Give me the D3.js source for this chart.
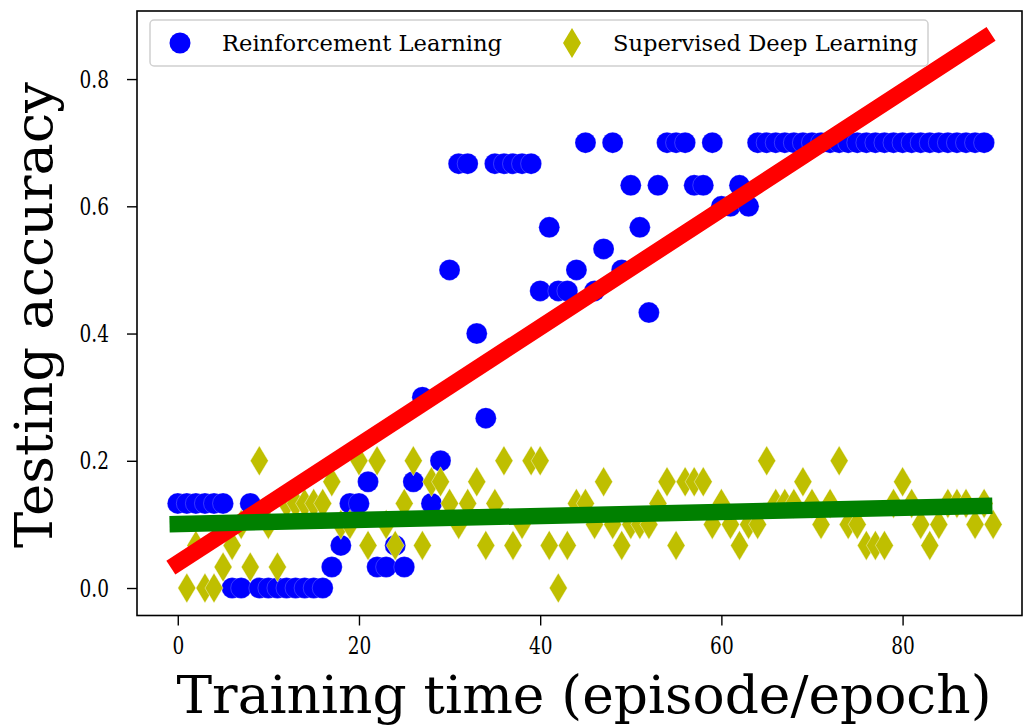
<!DOCTYPE html>
<html>
<head>
<meta charset="utf-8">
<script src="https://cdn.jsdelivr.net/npm/d3@7"></script>
<style>
  html, body { margin: 0; padding: 0; background: #fff; }
  svg { display: block; }
</style>
</head>
<body>
<svg id="chart" width="1025" height="728"></svg>
<script>
// ---- data ----
const rlEpisodes = [0,1,2,3,4,5,6,7,8,9,10,11,12,13,14,15,16,17,18,19,20,21,22,23,24,25,26,27,28,29,30,31,32,33,34,35,36,37,38,39,40,41,42,43,44,45,46,47,48,49,50,51,52,53,54,55,56,57,58,59,60,61,62,63,64,65,66,67,68,69,70,71,72,73,74,75,76,77,78,79,80,81,82,83,84,85,86,87,88,89];
const rlAccuracy = [0.133,0.133,0.133,0.133,0.133,0.133,0,0,0.133,0,0,0,0,0,0,0,0,
  0.033,0.067,0.133,0.133,0.167,0.033,0.033,0.067,0.033,0.167,0.3,0.133,0.2,
  0.5,0.667,0.667,0.4,0.267,0.667,0.667,0.667,0.667,0.667,
  0.467,0.567,0.467,0.467,0.5,0.7,0.467,0.533,0.7,0.5,
  0.633,0.567,0.433,0.633,0.7,0.7,0.7,0.633,0.633,0.7,
  0.6,0.6,0.633,0.6,
  0.7,0.7,0.7,0.7,0.7,0.7,0.7,0.7,0.7,0.7,0.7,0.7,0.7,0.7,0.7,0.7,0.7,0.7,0.7,0.7,0.7,0.7,0.7,0.7,0.7,0.7];

const sdlEpochs = [1,2,3,4,5,6,7,8,9,10,11,12,13,14,15,16,17,18,19,20,21,22,23,24,25,26,27,28,29,30,31,32,33,34,35,36,37,38,39,40,41,42,43,44,45,46,47,48,49,50,51,52,53,54,55,56,57,58,59,60,61,62,63,64,65,66,67,68,69,70,71,72,73,74,75,76,77,78,79,80,81,82,83,84,85,86,87,88,89,90];
const sdlAccuracy = [0,0.067,0,0,0.033,0.067,0.1,0.033,0.2,0.1,
  0.033,0.133,0.133,0.133,0.133,0.133,0.167,0.1,0.1,0.2,
  0.067,0.2,0.1,0.067,0.133,0.2,0.067,0.167,0.167,0.133,
  0.1,0.133,0.167,0.067,0.133,0.2,0.067,0.1,0.2,0.2,
  0.067,0,0.067,0.133,0.133,0.1,0.167,0.1,0.067,0.1,
  0.1,0.1,0.133,0.167,0.067,0.167,0.167,0.167,0.1,0.133,
  0.1,0.067,0.1,0.1,0.2,0.133,0.133,0.133,0.167,0.133,
  0.1,0.133,0.2,0.1,0.1,0.067,0.067,0.067,0.133,0.167,
  0.133,0.1,0.067,0.1,0.133,0.133,0.133,0.1,0.133,0.1];

// fitted trend lines (endpoints)
const rlTrendX = [0, 89];
const rlTrendY = [0.039, 0.864];
const sdlTrendX = [0, 89];
const sdlTrendY = [0.1005, 0.129];

const xTicks = [0, 20, 40, 60, 80];
const yTicks = [0.0, 0.2, 0.4, 0.6, 0.8];
const seriesNames = ["Reinforcement Learning", "Supervised Deep Learning"];
const xTitle = "Training time (episode/epoch)";
const yTitle = "Testing accuracy";

// ---- layout ----
const svg = d3.select("#chart");
const pLeft = 137, pRight = 1022, pTop = 11, pBottom = 615.5;
const x = d3.scaleLinear().domain([-4.5, 93.18]).range([pLeft, pRight]);
const y = d3.scaleLinear().domain([-0.0432, 0.907]).range([pBottom, pTop]);
const FONT = "DejaVu Serif";
const BLUE = "#0000ff", YEL = "#bfbf00", RED = "#ff0000", GREEN = "#008000";
const SQUEEZE = 0.74; // glyphs in the picture are horizontally condensed

svg.append("defs").append("clipPath").attr("id", "plotclip")
  .append("rect").attr("x", pLeft).attr("y", pTop).attr("width", pRight - pLeft).attr("height", pBottom - pTop);

const plot = svg.append("g").attr("clip-path", "url(#plotclip)");

const diamondPath = (w, h) => `M0,${-h/2}L${w/2},0L0,${h/2}L${-w/2},0Z`;

// RL circles
plot.append("g").selectAll("circle")
  .data(rlEpisodes.map((e, i) => [e, rlAccuracy[i]]))
  .join("circle")
  .attr("cx", d => x(d[0])).attr("cy", d => y(d[1])).attr("r", 10.5)
  .attr("fill", BLUE).attr("stroke", "#ffffff").attr("stroke-opacity", 0.35).attr("stroke-width", 0.6);

// SDL diamonds
plot.append("g").selectAll("path")
  .data(sdlEpochs.map((e, i) => [e, sdlAccuracy[i]]))
  .join("path")
  .attr("d", diamondPath(18, 30))
  .attr("transform", d => `translate(${x(d[0])},${y(d[1])})`)
  .attr("fill", YEL).attr("stroke", "#ffffff").attr("stroke-opacity", 0.6).attr("stroke-width", 0.7);

// trend lines
const line = d3.line().x(d => x(d[0])).y(d => y(d[1]));
plot.append("path").datum(rlTrendX.map((v, i) => [v, rlTrendY[i]]))
  .attr("d", line).attr("fill", "none").attr("stroke", RED)
  .attr("stroke-width", 16.5).attr("stroke-linecap", "square");
plot.append("path").datum(sdlTrendX.map((v, i) => [v, sdlTrendY[i]]))
  .attr("d", line).attr("fill", "none").attr("stroke", GREEN)
  .attr("stroke-width", 16.5).attr("stroke-linecap", "square");

// frame
svg.append("rect").attr("x", pLeft).attr("y", pTop).attr("width", pRight - pLeft).attr("height", pBottom - pTop)
  .attr("fill", "none").attr("stroke", "#000").attr("stroke-width", 1.6);

// axes
const xAxis = svg.append("g").attr("transform", `translate(0,${pBottom})`)
  .call(d3.axisBottom(x).tickValues(xTicks).tickFormat(d3.format("d")).tickSize(10).tickPadding(11));
const yAxis = svg.append("g").attr("transform", `translate(${pLeft},0)`)
  .call(d3.axisLeft(y).tickValues(yTicks).tickFormat(d3.format(".1f")).tickSize(10).tickPadding(18));
[xAxis, yAxis].forEach(a => {
  a.select(".domain").remove();
  a.selectAll(".tick line").attr("stroke", "#000").attr("stroke-width", 1.4);
  a.selectAll(".tick text").attr("font-family", FONT).attr("font-size", 25).attr("fill", "#000")
    .each(function() {
      const w = this.getComputedTextLength();
      d3.select(this).attr("textLength", w * SQUEEZE).attr("lengthAdjust", "spacingAndGlyphs");
    });
});

// axis titles
svg.append("text").attr("x", 584).attr("y", 713)
  .attr("text-anchor", "middle").attr("font-family", FONT).attr("font-size", 52)
  .attr("textLength", 815).attr("lengthAdjust", "spacingAndGlyphs")
  .text(xTitle);
svg.append("text").attr("transform", "translate(52,315) rotate(-90)")
  .attr("text-anchor", "middle").attr("font-family", FONT).attr("font-size", 52)
  .attr("textLength", 466).attr("lengthAdjust", "spacingAndGlyphs")
  .text(yTitle);

// legend
const lg = svg.append("g");
lg.append("rect").attr("x", 150).attr("y", 20).attr("width", 778).attr("height", 46).attr("rx", 4)
  .attr("fill", "#fff").attr("fill-opacity", 0.8).attr("stroke", "#d0d0d0").attr("stroke-width", 1.5);
lg.append("circle").attr("cx", 180).attr("cy", 43).attr("r", 10.5).attr("fill", BLUE);
lg.append("text").attr("x", 222).attr("y", 51).attr("font-family", FONT).attr("font-size", 22)
  .attr("textLength", 280).attr("lengthAdjust", "spacingAndGlyphs").text(seriesNames[0]);
lg.append("path").attr("d", diamondPath(18, 30)).attr("transform", "translate(572,43)").attr("fill", YEL);
lg.append("text").attr("x", 613).attr("y", 51).attr("font-family", FONT).attr("font-size", 22)
  .attr("textLength", 305).attr("lengthAdjust", "spacingAndGlyphs").text(seriesNames[1]);
</script>
</body>
</html>
